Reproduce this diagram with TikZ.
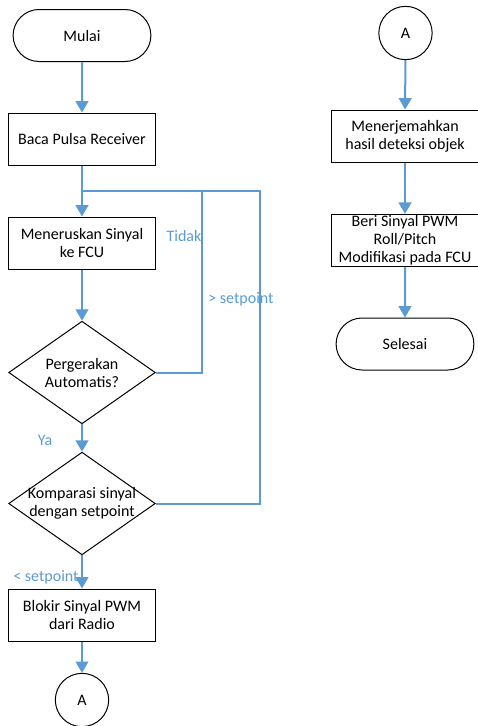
\documentclass[tikz,border=0pt]{standalone}
\usepackage{fontspec}
\setmainfont{Carlito}
\usetikzlibrary{shapes.geometric, shapes.misc, arrows.meta}
\definecolor{flowblue}{RGB}{91,155,213}
\begin{document}
\begin{tikzpicture}[x=0.75pt, y=-0.75pt, font=\fontsize{12}{13.5}\selectfont]
            \tikzset{
                terminal/.style={rounded rectangle, draw, line width=0.75pt, minimum width=110pt, minimum height=39pt},
                process/.style={rectangle, draw, line width=0.75pt, minimum width=110pt, minimum height=39pt, align=center, inner sep=1pt},
                decision/.style={diamond, draw, line width=0.75pt, minimum width=110pt, minimum height=77pt, inner sep=0pt},
                connector/.style={circle, draw, line width=0.75pt, minimum size=40pt, inner sep=0pt},
                flow/.style={draw=flowblue, line width=1.5pt, -{Triangle[width=9.5pt, length=8.5pt]}},
                loopline/.style={draw=flowblue, line width=1.5pt},
                branch/.style={text=flowblue, inner sep=0pt}
            };
            \useasboundingbox (0, 0) rectangle (478, 726);
            % left column
            \node[terminal] (mulai) at (82, 35.5) {Mulai};
            \node[process] (baca) at (82, 139) {Baca Pulsa Receiver};
            \node[process] (teruskan) at (82, 243) {Meneruskan Sinyal\\ke FCU};
            \node[decision, label={[align=center]center:Pergerakan\\Automatis?}] (gerak) at (82, 372.5) {};
            \node[decision, label={[align=center]center:Komparasi sinyal\\dengan setpoint}] (banding) at (82, 503.5) {};
            \node[process] (blokir) at (82, 615) {Blokir Sinyal PWM\\dari Radio};
            \node[connector] (a1) at (82, 700) {A};
            % right column
            \node[connector] (a2) at (405.5, 33) {A};
            \node[process] (terjemah) at (405, 136) {Menerjemahkan\\hasil deteksi objek};
            \node[process] (beri) at (405, 240.5) {Beri Sinyal PWM\\Roll/Pitch\\Modifikasi pada FCU};
            \node[terminal] (selesai) at (405, 344) {Selesai};
            % loop coordinates
            \coordinate (join) at (82, 191);
            \coordinate (loopA) at (202, 191);
            \coordinate (loopB) at (260, 191);
            \draw[flow] (mulai) -- (baca);
            \draw[flow] (baca) -- (teruskan);
            \draw[flow] (teruskan) -- (gerak);
            \draw[flow] (gerak) -- (banding);
            \draw[flow] (banding) -- (blokir);
            \draw[flow] (blokir) -- (a1);
            \draw[loopline] (gerak.east) -| (loopA) -- (join);
            \draw[loopline] (banding.east) -| (loopB) -- (loopA);
            \draw[flow] (a2) -- (terjemah);
            \draw[flow] (terjemah) -- (beri);
            \draw[flow] (beri) -- (selesai);
            % branch labels
            \node[branch] (tidak) at (184, 236) {Tidak};
            \node[branch] (lebih) at (241, 299) {> setpoint};
            \node[branch] (ya) at (45, 440) {Ya};
            \node[branch] (kurang) at (46, 577) {< setpoint};
        \end{tikzpicture}
\end{document}
